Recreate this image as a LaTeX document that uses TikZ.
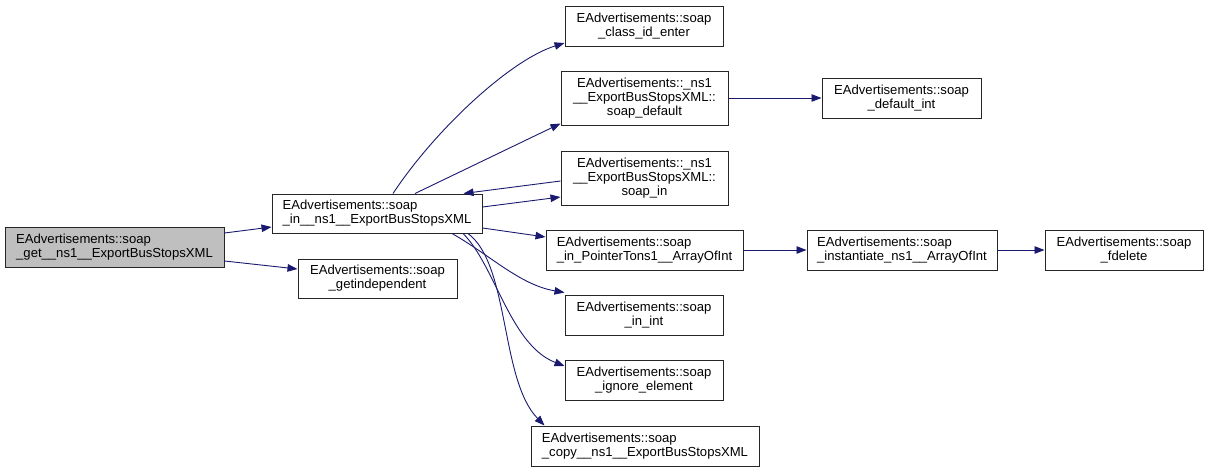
\documentclass[tikz,border=0pt]{standalone}
\usepackage{fontspec}
\setmainfont{Liberation Sans}
\usetikzlibrary{arrows.meta,calc}
\definecolor{edgec}{HTML}{191970}
\definecolor{rootfill}{HTML}{BFBFBF}
\begin{document}
\begin{tikzpicture}[x=1pt,y=-1pt,
  box/.style={draw=black!85,line width=1pt,rectangle,inner sep=0pt,minimum height=40pt,
    font=\fontsize{13.1}{14}\selectfont,align=center},
  lbox/.style={box,align=left},
  edge/.style={draw=edgec,line width=0.9pt,-{Triangle[length=10pt,width=7.5pt]}}]
\useasboundingbox (0,0) rectangle (1209,472);
\node[lbox,fill=rootfill,minimum width=219pt] (A) at (114.5,247) {EAdvertisements::soap\\\_get\_\_ns1\_\_ExportBusStopsXML};
\node[lbox,minimum width=210pt,minimum height=39pt] (B) at (377,213.5) {EAdvertisements::soap\\\_in\_\_ns1\_\_ExportBusStopsXML};
\node[box,minimum width=159pt,minimum height=39pt] (C) at (377.5,278.5) {EAdvertisements::soap\\\_getindependent};
\node[box,minimum width=158pt] (D) at (644,26) {EAdvertisements::soap\\\_class\_id\_enter};
\node[box,minimum width=167pt,minimum height=54pt] (E) at (644.5,98) {EAdvertisements::\_ns1\\\_\_ExportBusStopsXML::\\soap\_default};
\node[box,minimum width=159pt] (F) at (901.5,98) {EAdvertisements::soap\\\_default\_int};
\node[box,minimum width=167pt,minimum height=54pt] (G) at (644.5,178) {EAdvertisements::\_ns1\\\_\_ExportBusStopsXML::\\soap\_in};
\node[lbox,minimum width=197pt] (H) at (644.5,250) {EAdvertisements::soap\\\_in\_PointerTons1\_\_ArrayOfInt};
\node[lbox,minimum width=190pt] (I) at (902,250) {EAdvertisements::soap\\\_instantiate\_ns1\_\_ArrayOfInt};
\node[box,minimum width=158pt] (J) at (1124,250) {EAdvertisements::soap\\\_fdelete};
\node[box,minimum width=158pt] (K) at (644,315) {EAdvertisements::soap\\\_in\_int};
\node[box,minimum width=158pt] (L) at (644,380) {EAdvertisements::soap\\\_ignore\_element};
\node[lbox,minimum width=228pt] (M) at (645,446) {EAdvertisements::soap\\\_copy\_\_ns1\_\_ExportBusStopsXML};
% edges
\draw[edge] ($(A.east)+(0,-14)$) -- ($(B.west)+(0,13.5)$);
\draw[edge] ($(A.east)+(0,14)$) -- ($(C.west)+(0,-9.5)$);
\draw[edge] ($(B.north)+(16,0)$) .. controls (435,130) and (510,60) .. ($(D.west)+(0,17)$);
\draw[edge] ($(B.north)+(38,0)$) -- ($(E.south west)+(0,-2)$);
\draw[edge] ($(G.west)+(0,3)$) -- ($(B.north east)+(-19,0)$);
\draw[edge] ($(B.east)+(0,-6.5)$) -- ($(G.west)+(0,19)$);
\draw[edge] ($(B.east)+(0,14.5)$) -- ($(H.west)+(0,-13)$);
\draw[edge] ($(B.south)+(75,0)$) .. controls (490,255) and (520,285) .. ($(K.north west)+(0,-2)$);
\draw[edge] ($(B.south)+(86,0)$) .. controls (495,265) and (510,345) .. ($(L.west)+(0,-14)$);
\draw[edge] ($(B.south)+(91,0)$) .. controls (510,265) and (500,380) .. ($(M.north west)+(14,0)$);
\draw[edge] (E.east) -- (F.west);
\draw[edge] (H.east) -- (I.west);
\draw[edge] (I.east) -- (J.west);
\end{tikzpicture}
\end{document}
